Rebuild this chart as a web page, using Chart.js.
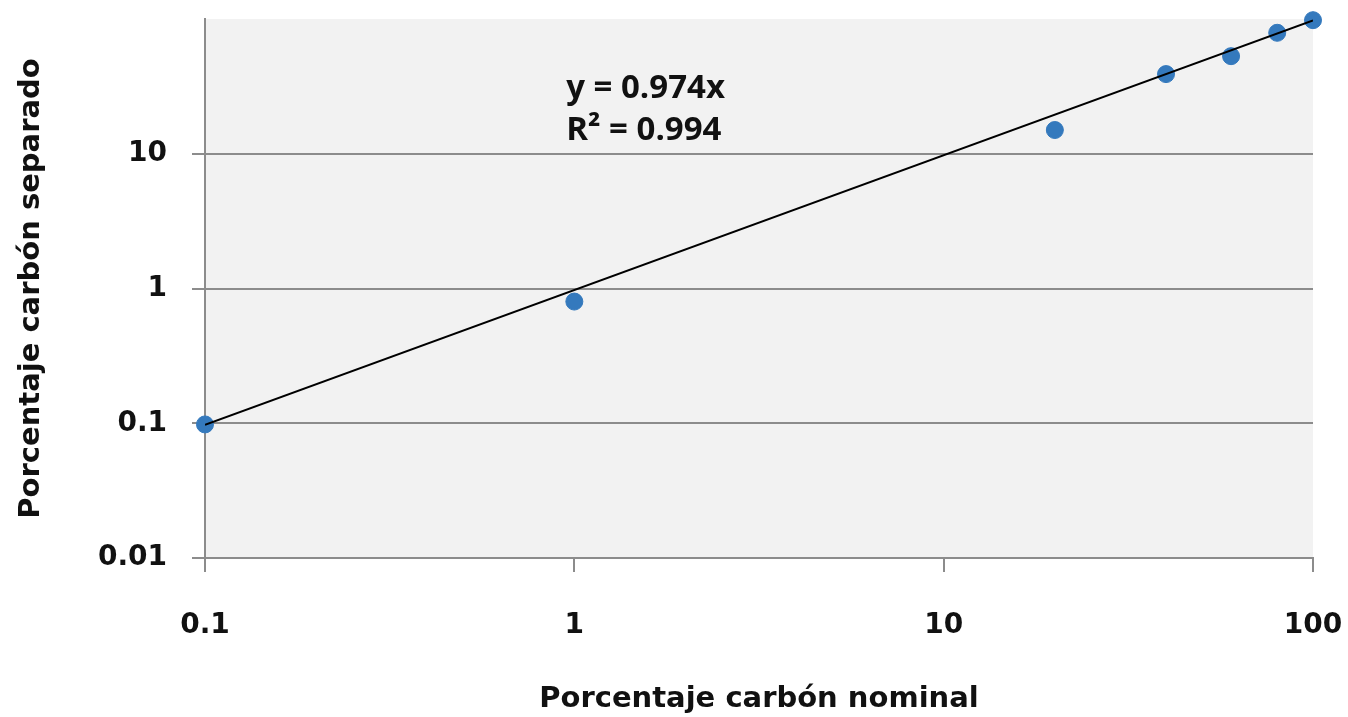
<!DOCTYPE html>
<html>
<head>
<meta charset="utf-8">
<script src="https://cdn.jsdelivr.net/npm/chart.js@4/dist/chart.umd.min.js"></script>
<style>
  html, body { margin: 0; padding: 0; background: #ffffff; }
  #c { display: block; }
</style>
</head>
<body>
<canvas id="c" width="1348" height="717"></canvas>
<script>
// ---- data ----
const nominal = [0.1, 1, 20, 40, 60, 80, 100];
const separado = [0.098, 0.8, 15, 39, 53, 79, 98];
const trendX = [0.1, 100];
const trendY = [0.0974, 97.4];
const yTickValues = [0.01, 0.1, 1, 10];
const xTickValues = [0.1, 1, 10, 100];
const xTitle = 'Porcentaje carbón nominal';
const yTitle = 'Porcentaje carbón separado';
const eqLines = ['y = 0.974x', 'R² = 0.994'];

const bgPlugin = {
  id: 'bg',
  beforeDraw(chart) {
    const {ctx, chartArea: a} = chart;
    ctx.save();
    ctx.fillStyle = '#f2f2f2';
    ctx.fillRect(a.left, a.top, a.right - a.left, a.bottom - a.top);
    ctx.restore();
  }
};

const eqPlugin = {
  id: 'eq',
  afterDatasetsDraw(chart) {
    const {ctx, chartArea: a} = chart;
    ctx.save();
    ctx.fillStyle = '#111';
    ctx.font = 'bold 33px "Open Sans"';
    ctx.textAlign = 'left';
    ctx.textBaseline = 'middle';
    const x0 = a.left + (a.right - a.left) * 0.326;
    const y0 = a.top + 70;
    ctx.fillText(eqLines[0], x0, y0);
    ctx.fillText(eqLines[1], x0, y0 + 42);
    ctx.restore();
  }
};

const tickFont = {family: '"DejaVu Sans"', size: 28, weight: 'bold'};
const titleFont = {family: '"DejaVu Sans"', size: 29, weight: 'bold'};

new Chart(document.getElementById('c'), {
  type: 'scatter',
  data: {
    datasets: [
      {
        type: 'line',
        data: trendX.map((x, i) => ({x, y: trendY[i]})),
        borderColor: '#000',
        borderWidth: 2,
        pointRadius: 0,
        fill: false,
        order: 1
      },
      {
        data: nominal.map((x, i) => ({x, y: separado[i]})),
        backgroundColor: '#3479bd',
        borderColor: '#3479bd',
        pointRadius: 8.5,
        pointHoverRadius: 8.5,
        clip: false,
        order: 2
      }
    ]
  },
  options: {
    responsive: false,
    animation: false,
    devicePixelRatio: 1,
    layout: {padding: {top: 19, right: 35, left: 0, bottom: 0}},
    plugins: {legend: {display: false}, tooltip: {enabled: false}},
    scales: {
      x: {
        type: 'logarithmic',
        min: 0.1, max: 100,
        afterBuildTicks(s) { s.ticks = xTickValues.map(v => ({value: v})); },
        afterFit(s) { s.height = 159; s.paddingLeft = 0; s.paddingRight = 0; },
        ticks: {
          callback: v => String(v),
          color: '#111', font: tickFont, padding: 37, maxRotation: 0, autoSkip: false
        },
        grid: {display: true, drawOnChartArea: false, drawTicks: true, tickLength: 14, color: '#8c8c8c', lineWidth: 2},
        border: {display: true, color: '#8c8c8c', width: 2},
        title: {display: true, text: xTitle, color: '#111', font: titleFont, padding: {top: 14, bottom: 0}}
      },
      y: {
        type: 'logarithmic',
        min: 0.01, max: 100,
        afterBuildTicks(s) { s.ticks = yTickValues.map(v => ({value: v})); },
        afterFit(s) { s.width = 205; s.paddingTop = 0; s.paddingBottom = 0; },
        ticks: {
          callback: v => String(v),
          color: '#111', font: tickFont, padding: 25, autoSkip: false
        },
        grid: {display: true, drawOnChartArea: true, drawTicks: true, tickLength: 13, color: '#8c8c8c', lineWidth: 2},
        border: {display: true, color: '#8c8c8c', width: 2},
        title: {display: true, text: yTitle, color: '#111', font: titleFont, padding: {top: 14, bottom: 0}}
      }
    }
  },
  plugins: [bgPlugin, eqPlugin]
});
</script>
</body>
</html>
